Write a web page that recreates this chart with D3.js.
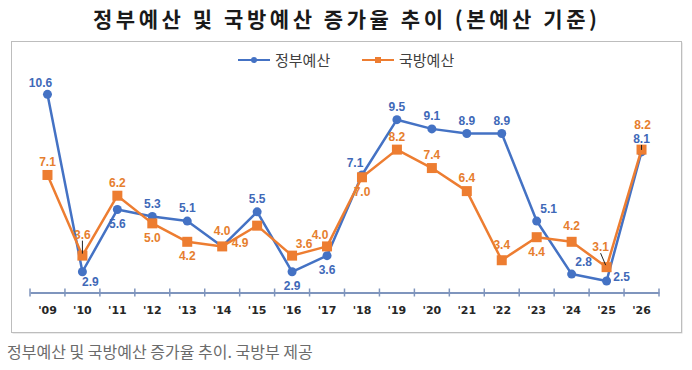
<!DOCTYPE html>
<html>
<head>
<meta charset="utf-8">
<script src="https://cdn.jsdelivr.net/npm/d3@7"></script>
<style>
  body { margin: 0; background: #fff; }
  svg { display: block; }
</style>
</head>
<body>
<svg width="692" height="370"></svg>
<script>
// data
var years = ["'09", "'10", "'11", "'12", "'13", "'14", "'15", "'16", "'17", "'18", "'19", "'20", "'21", "'22", "'23", "'24", "'25", "'26"];
var govBudget = [10.6, 2.9, 5.6, 5.3, 5.1, 4.0, 5.5, 2.9, 3.6, 7.1, 9.5, 9.1, 8.9, 8.9, 5.1, 2.8, 2.5, 8.1];
var defBudget = [7.1, 3.6, 6.2, 5.0, 4.2, 4.0, 4.9, 3.6, 4.0, 7.0, 8.2, 7.4, 6.4, 3.4, 4.4, 4.2, 3.1, 8.2];
var seriesNames = ["정부예산", "국방예산"];

// where each value label sits relative to its point ("" = no label)
var govLabelPos = ["tl", "br", "b", "t", "t", "", "t", "b", "b", "tl", "t", "t", "t", "t", "tr", "tr", "r", "t"];
var defLabelPos = ["t", "t3", "t", "b", "b", "tt", "bl", "tr", "tl", "b", "t", "t", "t", "tt", "b", "tt", "t3l", "t4"];
var govLeaders = [17];
var defLeaders = [1, 16];

var blue = "#4472c4", orange = "#ed7d31";

var svg = d3.select("svg"),
    width = +svg.attr("width"),
    height = +svg.attr("height");

svg.append("rect").attr("width", width).attr("height", height).attr("fill", "#fff");

// title
svg.append("text")
   .attr("x", 93).attr("y", 27)
   .attr("textLength", 504)
   .attr("font-family", "'Noto Sans CJK KR', sans-serif")
   .attr("font-weight", "bold")
   .attr("font-size", "21px")
   .attr("fill", "#1a1a1a")
   .text("정부예산 및 국방예산 증가율 추이 (본예산 기준)");

// chart frame with a soft shadow
svg.append("rect").attr("x", 12.5).attr("y", 42.5).attr("width", 670).attr("height", 291)
   .attr("fill", "#d8d8d8");
svg.append("rect").attr("x", 11.5).attr("y", 41.5).attr("width", 670).attr("height", 291)
   .attr("fill", "#fff").attr("stroke", "#bdbdbd");

// scales
var xScale = d3.scaleBand().domain(years).range([30, 659]),
    yScale = d3.scaleLinear().domain([2, 11]).range([292.5, 85.1]);
function cx(i) { return xScale(years[i]) + xScale.bandwidth() / 2; }

// x axis: line with crossing ticks at the band edges
var axis = svg.append("g").attr("transform", "translate(0," + yScale(2) + ")");
axis.call(d3.axisBottom(xScale).tickSize(0).tickPadding(14).tickSizeOuter(0));
axis.select(".domain").attr("stroke", "#7f95bd").attr("stroke-width", 2);
axis.selectAll(".tick text")
    .attr("font-family", "'DejaVu Sans', sans-serif")
    .attr("font-weight", "bold")
    .attr("font-size", "11px")
    .attr("fill", "#262626");
axis.selectAll(".edge")
    .data(years.concat(["end"]))
    .enter().append("line")
    .attr("x1", function(d) { return d === "end" ? 659 : xScale(d); })
    .attr("x2", function(d) { return d === "end" ? 659 : xScale(d); })
    .attr("y1", -4).attr("y2", 4)
    .attr("stroke", "#7f95bd").attr("stroke-width", 1.5);

// legend
var legend = svg.append("g");
var legendItems = [
  { name: seriesNames[0], color: blue, x: 238, shape: "circle" },
  { name: seriesNames[1], color: orange, x: 362, shape: "square" }
];
legendItems.forEach(function(it) {
  legend.append("line").attr("x1", it.x).attr("x2", it.x + 32).attr("y1", 60).attr("y2", 60)
        .attr("stroke", it.color).attr("stroke-width", 2);
  if (it.shape === "circle") {
    legend.append("circle").attr("cx", it.x + 16).attr("cy", 60).attr("r", 3).attr("fill", it.color);
  } else {
    legend.append("rect").attr("x", it.x + 13).attr("y", 57).attr("width", 6).attr("height", 6).attr("fill", it.color);
  }
  legend.append("text").attr("x", it.x + 37).attr("y", 66)
        .attr("font-family", "'Noto Sans CJK KR', sans-serif")
        .attr("font-size", "15px").attr("fill", "#404040")
        .text(it.name);
});

var line = d3.line()
    .x(function(d, i) { return cx(i); })
    .y(function(d) { return yScale(d); });

// government budget (blue, circles)
svg.append("path").datum(govBudget)
   .attr("d", line).attr("fill", "none")
   .attr("stroke", blue).attr("stroke-width", 2.5).attr("stroke-linejoin", "round");
svg.selectAll(".gov-pt").data(govBudget).enter().append("circle")
   .attr("class", "gov-pt")
   .attr("cx", function(d, i) { return cx(i); })
   .attr("cy", function(d) { return yScale(d); })
   .attr("r", 4.5).attr("fill", blue);

// defence budget (orange, squares) on top
svg.append("path").datum(defBudget)
   .attr("d", line).attr("fill", "none")
   .attr("stroke", orange).attr("stroke-width", 2.5).attr("stroke-linejoin", "round");
svg.selectAll(".def-pt").data(defBudget).enter().append("rect")
   .attr("class", "def-pt")
   .attr("x", function(d, i) { return cx(i) - 5; })
   .attr("y", function(d) { return yScale(d) - 5; })
   .attr("width", 10).attr("height", 10).attr("fill", orange);

// value labels
var offsets = {
  t: [0, -13], tt: [0, -16], t3: [0, -21], t3l: [-6, -20], t4: [1, -25], b: [0, 14],
  tl: [-7, -12], tr: [12, -12], br: [8, 10], bl: [-17, 17], r: [15, -4]
};
function labels(values, pos, leaders, color, cls) {
  var data = values.map(function(v, i) {
    var o = offsets[pos[i]] || [0, 0];
    return { v: v, i: i, show: pos[i] !== "", lx: cx(i) + o[0], ly: yScale(v) + o[1] };
  });
  svg.selectAll("." + cls + "-lead")
     .data(data.filter(function(d) { return leaders.indexOf(d.i) >= 0; }))
     .enter().append("line")
     .attr("x1", function(d) { return d.lx; })
     .attr("y1", function(d) { return d.ly + 6; })
     .attr("x2", function(d) { return cx(d.i) + (d.lx - cx(d.i)) * 0.15; })
     .attr("y2", function(d) { return yScale(d.v) - 2; })
     .attr("stroke", "#222").attr("stroke-width", 1);
  svg.selectAll("." + cls)
     .data(data.filter(function(d) { return d.show; }))
     .enter().append("text")
     .attr("class", cls)
     .attr("x", function(d) { return d.lx; })
     .attr("y", function(d) { return d.ly; })
     .attr("dy", "0.36em")
     .attr("text-anchor", "middle")
     .attr("font-family", "'Liberation Sans', Arial, sans-serif")
     .attr("font-weight", "bold")
     .attr("font-size", "12px")
     .attr("fill", color)
     .text(function(d) { return d.v.toFixed(1); });
}
labels(govBudget, govLabelPos, govLeaders, "#3f69b8", "gov-lbl");
labels(defBudget, defLabelPos, defLeaders, "#e67e2e", "def-lbl");

// caption under the image
svg.append("text")
   .attr("x", 7).attr("y", 358)
   .attr("font-family", "'Noto Sans CJK KR', sans-serif")
   .attr("font-size", "16px")
   .attr("fill", "#6b6b6b")
   .text("정부예산 및 국방예산 증가율 추이. 국방부 제공");
</script>
</body>
</html>
